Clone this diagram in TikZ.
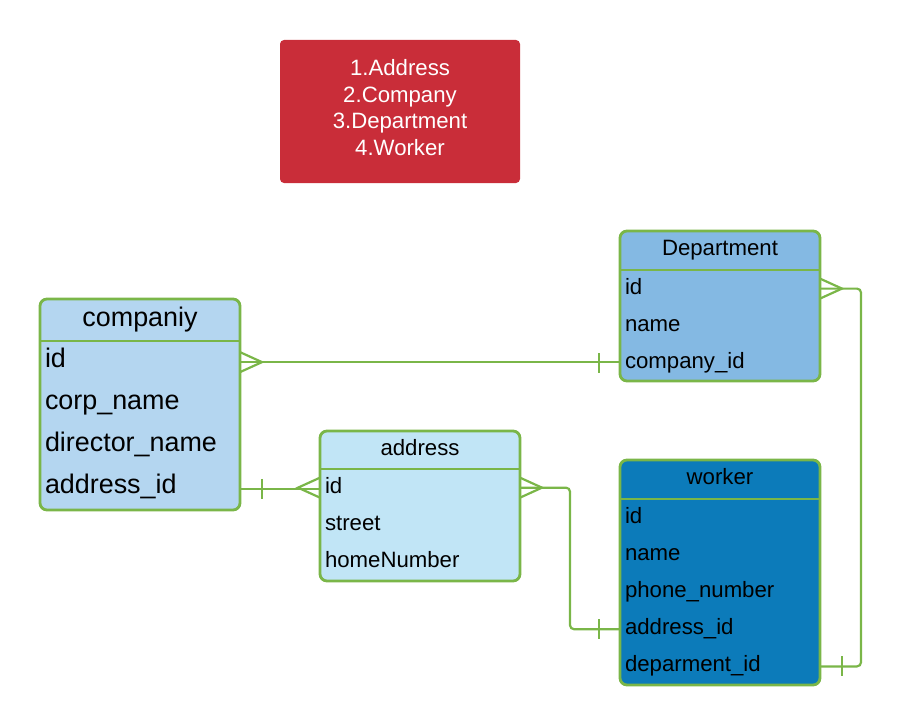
\documentclass[tikz,border=0pt]{standalone}
\usepackage{fontspec}
\setmainfont{Liberation Sans}
\usetikzlibrary{positioning,calc}
\definecolor{erdgreen}{HTML}{7AB648}
\definecolor{orderred}{HTML}{C92D39}
\definecolor{companyblue}{HTML}{B4D6F0}
\definecolor{deptblue}{HTML}{84B9E3}
\definecolor{addrblue}{HTML}{C1E5F6}
\definecolor{workerblue}{HTML}{0C7BBA}
\newcommand\tblfont{\fontsize{22.2}{26.7}\selectfont}
\newcommand\bigtblfont{\fontsize{26.9}{30}\selectfont}
\begin{document}
\begin{tikzpicture}[x=1pt, y=-1pt,
        tbl/.style={draw=erdgreen, line width=2.8pt, rounded corners=7pt,
          minimum width=200pt, inner sep=0pt, outer sep=0pt},
        tbltitle/.style={font=\tblfont, text width=190pt, align=center,
          inner xsep=5pt, inner ysep=0pt, outer sep=0pt, text height=24pt, text depth=15pt},
        field/.style={font=\tblfont, text width=190pt, align=left,
          inner xsep=5pt, inner ysep=0pt, outer sep=0pt, text height=24pt, text depth=13.2pt},
        divider/.style={draw=erdgreen, line width=2.6pt},
        link/.style={draw=erdgreen, line width=2.2pt}]
      \useasboundingbox (0,0) rectangle (902,725);
      % order of creation
      \node (order) [fill=orderred, rounded corners=4pt, minimum width=240pt,
        minimum height=143pt, inner sep=0pt] at (400,111.5) {};
      \node (order-text) [below=19.5pt of order.north, inner sep=0pt, align=center,
        text=white, font=\tblfont] {1.Address\\2.Company\\3.Department\\4.Worker};
      % companiy
      \node (companiy) [tbl, fill=companyblue, minimum height=211pt] at (140,404.5) {};
      \node (companiy-title) [tbltitle, font=\bigtblfont, text height=27pt, text depth=15pt]
        [below=0pt of companiy.north] {companiy};
      \tikzset{field/.append style={font=\bigtblfont, text height=26.2pt, text depth=16.05pt}}
      \node (companiy-id) [field, below=0pt of companiy-title] {id};
      \node (companiy-name) [field, below=0pt of companiy-id] {corp\_name};
      \node (companiy-dir) [field, below=0pt of companiy-name] {director\_name};
      \node (companiy-aid) [field, below=0pt of companiy-dir] {address\_id};
      \tikzset{field/.append style={font=\tblfont, text height=24pt, text depth=13.2pt}}
      \draw[divider] (companiy-title.south west) -- (companiy-title.south east);
      % Department
      \node (dept) [tbl, fill=deptblue, minimum height=150pt] at (720,306) {};
      \node (dept-title) [tbltitle, below=0pt of dept.north] {Department};
      \node (dept-id) [field, below=0pt of dept-title] {id};
      \node (dept-name) [field, below=0pt of dept-id] {name};
      \node (dept-cid) [field, below=0pt of dept-name] {company\_id};
      \draw[divider] (dept-title.south west) -- (dept-title.south east);
      % address
      \node (addr) [tbl, fill=addrblue, minimum height=150pt] at (420,506) {};
      \node (addr-title) [tbltitle, text depth=14pt, below=0pt of addr.north] {address};
      \node (addr-id) [field, text depth=13.33pt, below=0pt of addr-title] {id};
      \node (addr-street) [field, text depth=13.33pt, below=0pt of addr-id] {street};
      \node (addr-num) [field, text depth=13.33pt, below=0pt of addr-street] {homeNumber};
      \draw[divider] (addr-title.south west) -- (addr-title.south east);
      % worker
      \node (worker) [tbl, fill=workerblue, minimum height=225pt] at (720,572.5) {};
      \node (worker-title) [tbltitle, below=0pt of worker.north] {worker};
      \node (worker-id) [field, below=0pt of worker-title] {id};
      \node (worker-name) [field, below=0pt of worker-id] {name};
      \node (worker-phone) [field, below=0pt of worker-name] {phone\_number};
      \node (worker-aid) [field, below=0pt of worker-phone] {address\_id};
      \node (worker-did) [field, below=0pt of worker-aid] {deparment\_id};
      \draw[divider] (worker-title.south west) -- (worker-title.south east);
      % relations
      \draw[link] (companiy-id.east) -- (companiy-id.east -| dept-cid.west);
      \draw[link] (companiy-aid.east) -- (companiy-aid.east -| addr-id.west);
      \draw[link, rounded corners=4pt] (addr-id.east) -- ++(50,0) |- (worker-aid.west);
      \draw[link, rounded corners=4pt] (dept-id.east) -- ++(41,0) |- (worker-did.east);
      % many ends
      \foreach \pt/\dir in {companiy-id.east/1, addr-id.west/-1, addr-id.east/1, dept-id.east/1}
        \draw[link] ($(\pt)+(0,-10)$) -- ($(\pt)+(22*\dir,0)$) -- ($(\pt)+(0,10)$);
      % one ends
      \foreach \pt/\dx in {dept-cid.west/-21, companiy-aid.east/22, worker-aid.west/-21, worker-did.east/22}
        \draw[link] ($(\pt)+(\dx,-10)$) -- ++(0,20);
\end{tikzpicture}
\end{document}
